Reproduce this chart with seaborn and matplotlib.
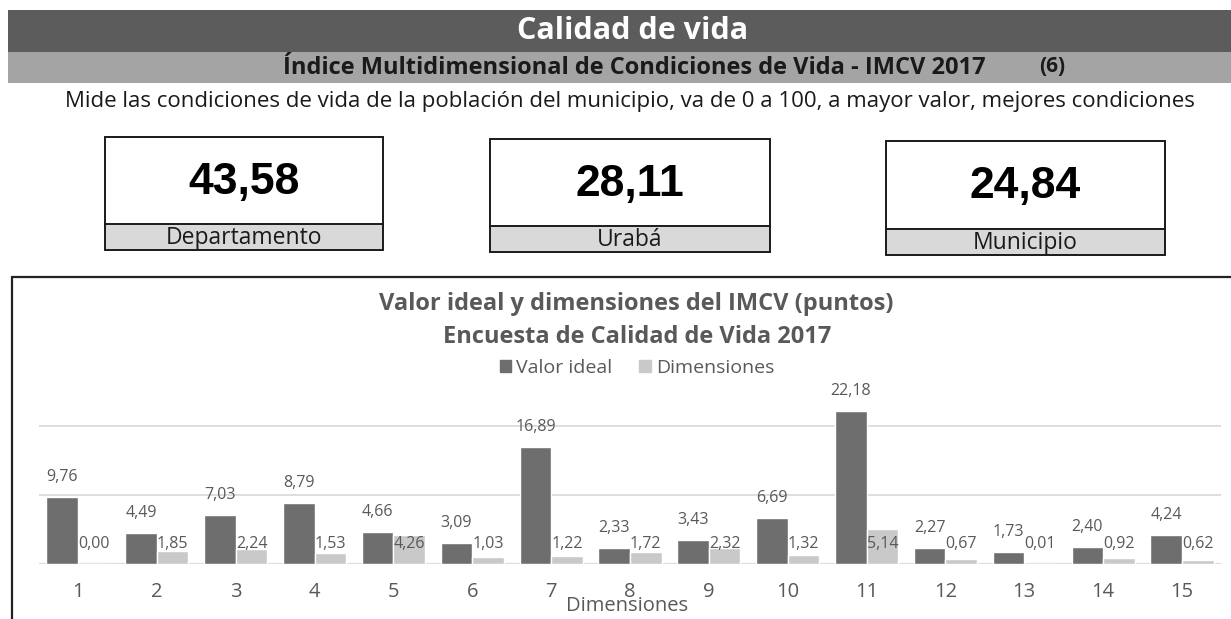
import numpy as np
import pandas as pd
import seaborn as sns
import matplotlib
matplotlib.use("Agg")
import matplotlib.pyplot as plt
from matplotlib.patches import Rectangle, Patch
from matplotlib.lines import Line2D

# data
dimensiones_ids = [str(i) for i in range(1, 16)]
valor_ideal = [9.76, 4.49, 7.03, 8.79, 4.66, 3.09, 16.89, 2.33, 3.43, 6.69, 22.18, 2.27, 1.73, 2.40, 4.24]
dimensiones = [0.00, 1.85, 2.24, 1.53, 4.26, 1.03, 1.22, 1.72, 2.32, 1.32, 5.14, 0.67, 0.01, 0.92, 0.62]
series_names = ["Valor ideal", "Dimensiones"]
kpi_values = ["43,58", "28,11", "24,84"]
kpi_labels = ["Departamento", "Urabá", "Municipio"]

W, H = 1231, 619
DARK = "#6e6e6e"
LIGHT = "#c9c9c9"
TXT = "#595959"

sns.set_style("white")
plt.rcParams["font.family"] = ["Open Sans", "DejaVu Sans"]

fig = plt.figure(figsize=(W / 100, H / 100), dpi=100)


def fx(px):
    return px / W


def fy(py):
    return 1 - py / H


def rect(x0, y0, x1, y1, **kw):
    fig.add_artist(Rectangle((fx(x0), fy(y1)), fx(x1) - fx(x0), fy(y0) - fy(y1),
                             transform=fig.transFigure, **kw))


# header bars
rect(8, 10, 1231, 52, facecolor="#5c5c5c", edgecolor="none")
rect(8, 52, 1231, 83, facecolor="#a4a4a4", edgecolor="none")
fig.text(fx(633), fy(31), "Calidad de vida", color="white", fontsize=22,
         fontweight="bold", ha="center", va="center")
fig.text(fx(634), fy(68), "Índice Multidimensional de Condiciones de Vida - IMCV 2017",
         color="#1a1a1a", fontsize=17, fontweight="bold", ha="center", va="center")
fig.text(fx(1052), fy(67), "(6)", color="#1a1a1a", fontsize=15,
         fontweight="bold", ha="center", va="center")
fig.text(fx(630), fy(102),
         "Mide las condiciones de vida de la población del municipio, va de 0 a 100, a mayor valor, mejores condiciones",
         color="#1a1a1a", fontsize=16, ha="center", va="center")

# KPI boxes
boxes = [(105, 383, 137, 224, 250), (490, 770, 139, 226, 252), (886, 1165, 141, 229, 255)]
for (x0, x1, y0, ym, y1), val, lab in zip(boxes, kpi_values, kpi_labels):
    rect(x0, ym, x1, y1, facecolor="#d9d9d9", edgecolor="none")
    rect(x0, y0, x1, y1, facecolor="none", edgecolor="#1a1a1a", linewidth=1.4)
    fig.add_artist(Line2D([fx(x0), fx(x1)], [fy(ym), fy(ym)], color="#1a1a1a",
                          linewidth=1.4, transform=fig.transFigure))
    cx = (x0 + x1) / 2
    fig.text(fx(cx), fy((y0 + ym) / 2 + 2), val, fontsize=32, fontweight="bold",
             family="Liberation Sans", color="black", ha="center", va="center")
    fig.text(fx(cx), fy((ym + y1) / 2 + 1), lab, fontsize=16.5, color="#1a1a1a",
             ha="center", va="center")

# chart frame (cut at right and bottom)
fig.add_artist(Line2D([fx(12), fx(1231)], [fy(277), fy(277)], color="#222222",
                      linewidth=1.6, transform=fig.transFigure))
fig.add_artist(Line2D([fx(12), fx(12)], [fy(277), fy(619)], color="#222222",
                      linewidth=1.6, transform=fig.transFigure))

fig.text(fx(636), fy(304), "Valor ideal y dimensiones del IMCV (puntos)", color=TXT,
         fontsize=17, fontweight="bold", ha="center", va="center")
fig.text(fx(637), fy(337), "Encuesta de Calidad de Vida 2017", color=TXT,
         fontsize=17, fontweight="bold", ha="center", va="center")

# bar chart
df = pd.DataFrame({
    "dim": dimensiones_ids * 2,
    "valor": valor_ideal + dimensiones,
    "serie": [series_names[0]] * len(valor_ideal) + [series_names[1]] * len(dimensiones),
})

ax_left, ax_right = 38.6, 1221.4
ax_bottom, ax_top = 564, 564 - 25 * 6.9
ax = fig.add_axes([fx(ax_left), fy(ax_bottom), fx(ax_right) - fx(ax_left), fy(ax_top) - fy(ax_bottom)])
sns.barplot(data=df, x="dim", y="valor", hue="serie", hue_order=series_names,
            palette=[DARK, LIGHT], width=0.8, ax=ax, legend=False)
ax.set_ylim(0, 25)
ax.set_xlim(-0.5, 14.5)
ax.set_yticks([0, 10, 20])
ax.set_yticklabels([])
ax.yaxis.grid(True, color="#dedede", linewidth=1.4)
ax.set_axisbelow(True)
for s in ax.spines.values():
    s.set_visible(False)
ax.axhline(0, color="#d6d6d6", linewidth=1.6, zorder=0)
ax.tick_params(axis="x", length=0, pad=13, labelsize=14.5, labelcolor=TXT)
ax.tick_params(axis="y", length=0)
ax.set_xlabel("")
ax.set_ylabel("")

for i, cont in enumerate(ax.containers):
    for bar in cont:
        h = bar.get_height()
        xc = bar.get_x() + bar.get_width() / 2
        base = h if i == 0 else 0
        ax.annotate(f"{h:.2f}".replace(".", ","), (xc, base), xytext=(0, 20),
                    textcoords="offset pixels", ha="center", va="center",
                    fontsize=11.5, color=TXT, annotation_clip=False)

fig.text(fx(627), fy(606), "Dimensiones", fontsize=14.5, color=TXT, ha="center", va="center")

fig.legend(handles=[Patch(color=DARK, label=series_names[0]),
                    Patch(color=LIGHT, label=series_names[1])],
           loc="center", bbox_to_anchor=(fx(637), fy(368)), ncol=2, frameon=False,
           fontsize=14, handlelength=0.6, handleheight=0.6, handletextpad=0.25,
           columnspacing=1.4, labelcolor=TXT)

fig.savefig("out.png", dpi=100)
